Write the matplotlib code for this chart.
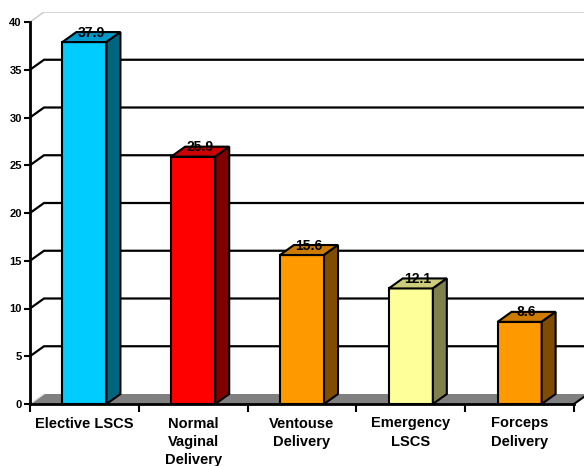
import matplotlib.pyplot as plt
from matplotlib.patches import Polygon

plt.rcParams['font.family'] = ['Liberation Sans', 'DejaVu Sans']

categories = ['Elective LSCS', 'Normal\nVaginal\nDelivery', 'Ventouse\nDelivery',
              'Emergency\nLSCS', 'Forceps\nDelivery']
values = [37.9, 25.9, 15.6, 12.1, 8.6]
labels = ['37.9', '25.9', '15.6', '12.1', '8.6']
front_colors = ['#00CCFF', '#FF0000', '#FF9900', '#FFFF99', '#FF9900']
top_colors = ['#0099CC', '#CC0000', '#CC7A00', '#CCCC7A', '#CC7A00']
side_colors = ['#006680', '#800000', '#804C00', '#80804C', '#804C00']
yticks = [0, 5, 10, 15, 20, 25, 30, 35, 40]

fig = plt.figure(figsize=(5.84, 4.66), dpi=100)
W, H = 584, 466
ax = fig.add_axes([30 / W, (H - 404) / H, 554 / W, 392 / H])
px_per_cat = 108.8
px_per_unit = 9.55
ax.set_xlim(-0.5, -0.5 + 554 / px_per_cat)
ax.set_ylim(0, 392 / px_per_unit)

# 3d depth offset in data units
dx = 14 / px_per_cat
dy = 10 / px_per_unit
x0, x1 = -0.5, len(categories) - 0.5

# floor
ax.add_patch(Polygon([(x0, 0), (x1, 0), (x1 + dx, dy), (x0 + dx, dy)],
                     closed=True, facecolor='#808080', edgecolor='none', zorder=1))
ax.plot([x0, x0 + dx], [0, dy], color='#e0e0e0', lw=1, zorder=2)
ax.plot([x1, x1 + dx], [0, dy], color='black', lw=1.5, zorder=2, clip_on=False)

# back wall top edge
ax.plot([x0, x0 + dx, x1 + 2], [40, 40 + dy, 40 + dy], color='#c8c8c8', lw=1, zorder=1)

# gridlines on back wall
for v in yticks[1:-1]:
    ax.plot([x0, x0 + dx, x1 + 2], [v, v + dy, v + dy], color='black', lw=1.6, zorder=1)

# bars
bw = 0.405
for i, v in enumerate(values):
    l, r = i - bw / 2, i + bw / 2
    ax.add_patch(Polygon([(l, 0), (r, 0), (r, v), (l, v)], closed=True,
                         facecolor=front_colors[i], edgecolor='black', lw=1.5, zorder=3))
    ax.add_patch(Polygon([(l, v), (r, v), (r + dx, v + dy), (l + dx, v + dy)], closed=True,
                         facecolor=top_colors[i], edgecolor='black', lw=1.5, zorder=3))
    ax.add_patch(Polygon([(r, 0), (r + dx, dy), (r + dx, v + dy), (r, v)], closed=True,
                         facecolor=side_colors[i], edgecolor='black', lw=1.5, zorder=3))
    ax.text(i + dx / 2, v + dy * 0.95, labels[i], ha='center', va='center',
            fontsize=10, fontweight='bold', zorder=4)

# axes
for s in ['top', 'right']:
    ax.spines[s].set_visible(False)
ax.spines['left'].set_bounds(0, 40)
ax.spines['bottom'].set_bounds(x0, x1)
ax.spines['left'].set_linewidth(2)
ax.spines['bottom'].set_linewidth(2)
ax.spines['left'].set_zorder(5)
ax.spines['bottom'].set_zorder(5)

ax.set_yticks(yticks)
ax.set_yticklabels([str(t) for t in yticks], fontsize=8, fontweight='bold')
ax.tick_params(axis='y', length=4, width=1.5, pad=2)

ax.set_xticks([x0 + k for k in range(len(categories) + 1)])
ax.set_xticklabels([])
ax.tick_params(axis='x', which='major', length=6, width=1.5, direction='out')
ax.set_xticks(range(len(categories)), minor=True)
ax.set_xticklabels(categories, minor=True, fontsize=10.5, fontweight='bold', linespacing=1.4)
ax.tick_params(axis='x', which='minor', length=0, pad=9)

plt.savefig('out.png', dpi=100)
